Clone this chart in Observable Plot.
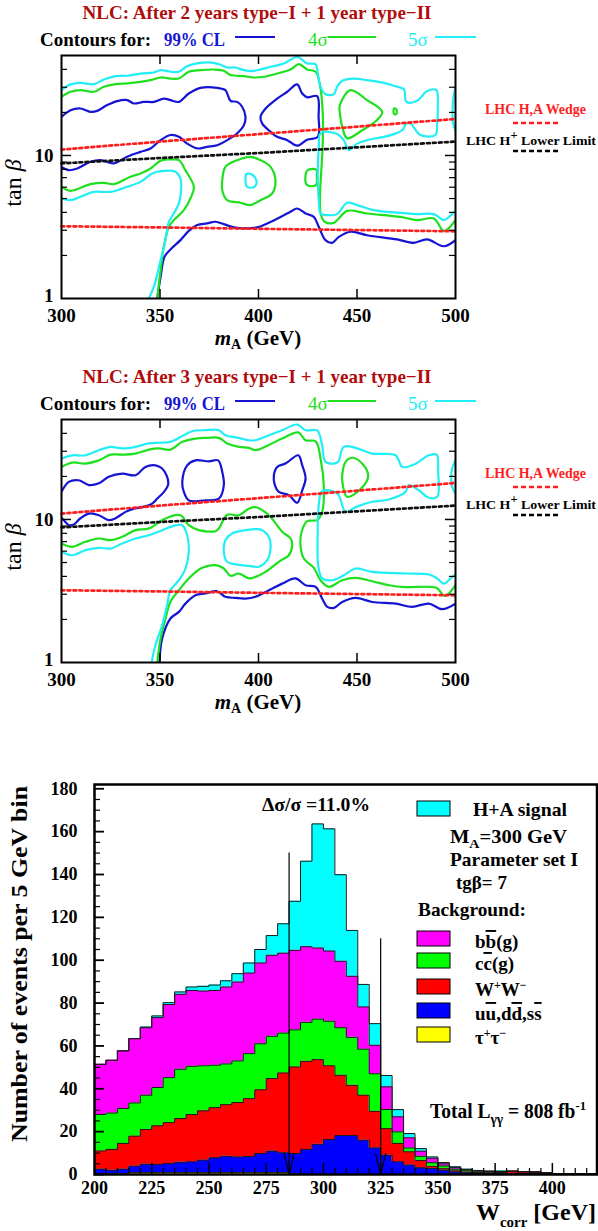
<!DOCTYPE html>
<html><head><meta charset="utf-8">
<script src="https://cdn.jsdelivr.net/npm/d3@7"></script>
<script src="https://cdn.jsdelivr.net/npm/@observablehq/plot@0.6"></script>
<style>
html,body{margin:0;padding:0;background:#fff;}
#page{position:relative;width:598px;height:1231px;overflow:hidden;background:#fff;}
.panel{position:absolute;left:0;}
svg text{font-family:'Liberation Serif','Times New Roman',serif;}
</style></head>
<body><div id="page">
<div class="panel" id="p1" style="top:0px"></div>
<div class="panel" id="p2" style="top:364px"></div>
<div class="panel" id="p3" style="top:760px"></div>
</div>
<script>
// ---------------- DATA: contour panels (mA [GeV], tan beta) ----------------
const xLabelsC = [300, 350, 400, 450, 500];
const xTicksC = [350, 400, 450];
const yLabelsC = [1, 10];
const yMinorC = [2, 3, 4, 5, 6, 7, 8, 9, 20, 30, 40];
const yMajorC = [10];

// LHC reference lines
const dotMA = [300, 350, 400, 450, 500];
const wedgeUpper = [11.0, 12.5, 14.1, 15.9, 18.0];
const hplusLimit = [8.8, 9.6, 10.4, 11.4, 12.5];
const wedgeLower = [3.2, 3.14, 3.07, 3.01, 2.95];

// Panel 1: after 2 years type-I + 1 year type-II
const p1BlueBand = [[300,18.6],[304.6,20.7],[309.6,21.3],[314.7,20.2],[318.1,20.5],[323.2,22.5],[328.3,24.0],[333.3,24.4],[336.7,23.1],[341.8,23.7],[346.9,23.7],[351.9,25.0],[355.3,24.4],[359.6,23.7],[364.6,27.1],[370.6,29.7],[379.0,29.7],[383.2,28.6],[385.8,24.1],[389.2,23.7],[391.7,21.9],[393.4,18.6],[392.6,16.3],[389.2,14.3],[384.1,12.8],[379.0,11.8],[373.9,11.5],[368.9,11.2],[363.8,12.1],[359.6,13.5],[355.3,13.9],[350.3,12.8],[345.2,11.2],[340.1,10.6],[333.3,9.8],[326.6,8.8],[319.8,9.27],[314.7,9.03],[308.0,8.11],[303.7,7.89],[300,8.33]];
const p1BlueLoop = [[401.0,18.6],[403.6,21.3],[409.5,25.0],[414.6,27.9],[419.6,31.4],[422.2,27.1],[424.7,25.5],[429.8,26.0],[430.5,18.6],[430.1,13.5],[424.7,12.9],[419.6,11.7],[414.6,12.8],[409.5,13.5],[405.2,15.0],[401.9,16.7]];
const p1BlueLow = [[348.6,1.0],[350.3,1.42],[352.3,1.96],[355.3,2.20],[360.4,2.56],[364.6,2.97],[368.9,3.26],[373.9,3.35],[378.2,3.44],[382.4,3.31],[387.5,3.14],[394.2,3.09],[399.3,3.14],[404.4,3.35],[411.2,3.72],[416.2,4.04],[419.6,4.26],[423.9,3.93],[428.1,3.72],[430.6,3.17],[434.0,2.56],[437.4,2.45],[440.8,2.70],[446.7,2.93],[455.1,2.77],[470.4,2.59],[478.8,2.45],[485.6,2.59],[494.1,2.32],[500,2.56]];
const p1GreenTop = [[300,25.7],[304.6,27.9],[309.6,28.6],[316.4,27.9],[321.5,30.2],[327.4,31.5],[333.3,31.9],[340.1,32.7],[345.2,33.6],[350.3,35.1],[355.3,34.5],[359.6,34.5],[364.6,38.5],[370.6,39.5],[377.3,39.9],[382.4,39.1],[385.8,36.5],[392.6,35.9],[397.6,35.1],[402.7,35.5],[409.5,37.4],[416.2,39.9],[420.5,43.5],[424.7,39.9],[429.0,38.5],[431.2,31.0],[432.6,20.0],[432.6,12.0],[431.8,7.5],[431.2,5.2],[431.6,3.9],[433.6,3.44],[438.2,3.38],[445.0,4.10],[455.1,3.93],[472.1,3.72],[480.5,3.53],[489.0,3.63],[494.1,2.97],[500,3.53]];
const p1GreenLow = [[300,6.04],[304.6,5.66],[314.7,6.30],[321.5,6.44],[326.6,6.30],[335.0,7.10],[340.1,7.48],[345.2,8.11],[350.3,9.18],[355.3,9.38],[359.6,9.27],[362.9,7.89],[367.2,6.04],[365.8,5.14],[362.1,4.15],[357.0,3.53],[354.5,3.17],[351.9,2.30],[350.3,1.58],[348.6,1.0]];
const p1GreenCircle = [[381.6,6.72],[383.2,8.33],[389.2,9.27],[395.9,9.79],[401.0,9.27],[406.1,8.33],[408.6,6.72],[406.9,5.42],[401.0,4.87],[395.9,4.50],[390.9,4.67],[384.1,4.87],[381.6,5.72]];
const p1GreenNotch = [[429.2,7.98],[425.0,7.89],[423.8,7.10],[424.7,6.20],[429.2,6.20],[429.6,7.10]];
const p1GreenTri = [[441.3,22.5],[446.7,28.6],[455.1,24.4],[462.8,20.2],[460.2,17.7],[452.6,15.0],[445.0,13.2],[442.5,15.9],[441.3,19.7]];
const p1GreenDot = [[468.8,21.3],[470.0,21.0],[470.0,19.5],[468.8,19.5]];
const p1CyanTop = [[300,28.6],[304.6,31.4],[309.6,32.2],[316.4,31.5],[321.5,34.0],[327.4,35.9],[333.3,36.1],[340.1,37.4],[346.9,38.0],[350.3,39.5],[355.3,38.5],[359.6,38.5],[363.8,42.1],[368.9,44.0],[374.8,44.7],[379.9,43.5],[384.1,41.2],[388.3,41.2],[392.6,39.5],[396.8,38.9],[401.0,40.0],[406.1,41.7],[412.9,44.0],[419.6,49.0],[421.3,47.7],[424.7,44.0],[428.9,43.5],[430.1,37.4],[431.5,30.2],[434.0,26.8],[438.2,26.8],[439.9,30.2],[442.5,33.3],[448.4,34.5],[455.1,33.6],[463.6,32.2],[470.4,30.2],[473.8,29.0],[475.1,23.7],[480.5,24.1],[485.6,28.2],[490.3,28.6],[491.0,21.9],[490.7,16.7],[489.8,13.9],[482.2,13.9],[477.1,16.7],[475.1,16.7],[472.9,15.0],[468.7,14.1],[463.6,13.5],[455.1,12.8],[450.1,12.1],[445.8,10.9],[443.3,12.8],[439.1,14.3],[431.5,14.3],[430.6,11.5],[430.1,7.48],[430.6,4.87],[431.5,3.93],[434.8,3.83],[439.9,3.89],[445.0,4.67],[450.1,4.50],[458.5,4.15],[472.1,3.97],[480.5,3.89],[489.0,3.89],[494.1,3.53],[497.1,3.76],[500,4.10]];
const p1CyanLow = [[300,5.00],[304.6,4.87],[309.6,5.14],[316.4,5.57],[324.9,5.57],[333.3,6.04],[340.1,6.54],[346.0,7.48],[350.3,7.77],[357.9,7.69],[360.4,6.90],[360.7,5.72],[359.6,4.62],[357.0,3.93],[354.5,3.44],[352.8,2.56],[350.3,1.85],[346.9,1.21],[344.3,1.0]];
const p1CyanD = [[393.9,7.41],[396.8,7.33],[399.0,6.65],[398.0,6.04],[394.2,6.04]];
const p1CyanEdge = [[500,30.2],[498.8,24.4],[498.5,20.7],[498.8,16.7],[500,15.0]];

// Panel 2: after 3 years type-I + 1 year type-II
const p2BlueBand = [[300,15.6],[303.7,18.3],[308.8,18.8],[313.9,17.4],[319.0,17.9],[324.0,19.9],[330.8,20.9],[337.6,20.4],[342.6,23.3],[347.7,23.9],[351.1,22.7],[353.6,19.9],[354.1,17.4],[352.0,15.6],[348.6,14.0],[346.0,12.9],[340.9,12.2],[336.7,11.9],[332.5,11.3],[327.4,10.2],[324.0,9.89],[319.0,10.7],[313.9,11.0],[309.6,10.2],[306.3,9.22],[303.7,9.12],[301.2,9.89],[300,10.3]];
const p2BlueLoop1 = [[361.3,18.3],[363.8,23.9],[368.0,25.9],[374.8,25.5],[379.5,25.9],[381.6,21.5],[382.4,17.4],[379.9,14.0],[373.1,13.6],[368.0,13.4],[364.6,13.6],[362.1,15.6]];
const p2BlueLoop2 = [[407.8,20.4],[409.5,23.3],[413.7,24.6],[420.2,28.1],[422.2,23.9],[423.9,19.3],[422.2,16.0],[419.7,13.1],[415.4,14.8],[410.3,15.6],[408.3,17.4]];
const p2BlueLow = [[349.7,1.0],[351.1,1.47],[355.3,2.03],[359.6,2.26],[362.9,2.58],[368.0,2.95],[373.1,3.04],[379.0,3.15],[383.2,2.88],[388.3,2.83],[393.4,2.80],[398.5,2.88],[405.3,3.20],[412.0,3.56],[418.8,3.87],[423.9,3.47],[429.0,3.38],[432.3,2.80],[434.9,2.45],[438.3,2.41],[442.5,2.65],[449.3,2.83],[457.7,2.65],[469.6,2.58],[478.0,2.45],[486.5,2.58],[493.3,2.36],[500,2.58]];
const p2GreenTop = [[300,23.3],[305.4,25.0],[312.2,24.6],[319.0,25.9],[324.9,28.4],[330.8,28.4],[337.6,28.9],[344.3,30.8],[349.4,31.4],[355.3,30.8],[361.3,34.9],[368.0,36.8],[373.9,37.2],[379.9,37.2],[384.1,34.0],[390.0,32.2],[395.1,31.7],[398.5,30.5],[405.3,33.2],[412.0,36.8],[420.2,40.6],[423.9,35.8],[429.0,35.2],[431.5,26.7],[433.2,16.5],[432.3,11.3],[429.8,9.89],[424.7,9.73],[421.9,8.20],[421.3,6.61],[423.0,5.33],[428.1,4.59],[431.5,3.76],[435.7,3.38],[442.5,3.76],[449.3,3.91],[457.7,3.70],[466.2,3.47],[474.6,3.37],[486.5,3.38],[490.7,3.31],[494.6,2.92],[500,3.47]];
const p2GreenLow = [[300,6.79],[305.4,6.44],[312.2,6.98],[319.0,7.36],[324.9,7.17],[330.8,7.56],[337.6,8.42],[344.3,8.65],[351.1,9.89],[355.3,10.5],[360.4,10.7],[364.6,9.12],[369.7,8.42],[378.2,8.28],[379.9,8.65],[384.1,10.8],[390.0,10.7],[395.1,11.9],[398.5,12.2],[405.3,10.7],[412.0,8.20],[416.3,7.36],[417.1,6.61],[415.4,5.62],[410.3,5.06],[403.6,4.30],[398.5,3.97],[395.1,3.87],[390.0,4.19],[385.8,4.04],[382.4,4.54],[378.2,4.79],[371.4,4.59],[364.6,3.87],[359.6,3.20],[355.3,2.66],[352.8,2.03],[350.3,1.47],[348.6,1.0]];
const p2GreenTri = [[442.5,20.4],[444.2,25.3],[447.6,27.0],[452.6,24.6],[455.7,20.2],[452.6,16.7],[445.0,14.4],[442.8,17.4]];
const p2CyanTop = [[300,26.7],[305.4,28.1],[312.2,28.1],[319.0,30.5],[324.9,32.2],[330.8,31.4],[337.6,32.2],[344.3,34.0],[349.4,34.4],[355.3,34.9],[362.1,38.8],[366.3,41.4],[373.1,42.1],[379.9,42.1],[383.2,38.8],[390.0,37.2],[395.1,35.8],[398.5,35.8],[405.3,38.8],[412.0,42.1],[419.7,46.1],[423.9,42.1],[429.8,41.9],[432.3,33.0],[434.0,25.3],[440.0,25.0],[443.3,32.2],[449.3,31.7],[457.7,28.9],[469.6,28.1],[473.0,23.3],[478.9,24.2],[486.5,28.1],[490.4,28.4],[491.2,21.5],[490.7,14.4],[486.5,14.2],[481.4,16.0],[476.3,17.4],[474.6,15.6],[466.2,13.8],[457.7,13.3],[449.3,12.2],[444.2,11.3],[440.0,15.2],[432.3,15.8],[430.6,12.6],[430.0,7.36],[430.3,4.79],[432.3,3.87],[437.4,3.76],[443.3,4.07],[449.3,4.54],[457.7,4.30],[474.6,4.19],[486.5,4.12],[490.7,3.87],[494.1,3.56],[497.5,3.87],[500,4.12]];
const p2CyanLow = [[300,5.94],[305.4,5.62],[312.2,6.10],[319.0,6.34],[324.9,6.26],[330.8,6.79],[337.6,7.36],[344.3,7.76],[351.1,8.42],[357.0,9.03],[361.3,9.12],[363.8,7.76],[364.6,5.94],[362.9,4.54],[359.6,3.76],[355.3,3.20],[353.6,2.52],[351.1,1.82],[347.7,1.32],[345.7,1.0]];
const p2CyanCircle = [[382.4,5.94],[383.2,7.17],[386.6,7.98],[393.4,8.42],[399.8,8.55],[402.7,8.28],[405.6,7.36],[406.1,6.26],[404.4,5.19],[400.2,4.67],[395.1,4.74],[389.2,4.84],[384.1,5.06]];
const p2CyanEdge = [[500,26.0],[498.3,22.7],[497.8,19.9],[498.3,16.9],[500,15.2]];

// ---------------- DATA: W_corr histogram (stack tops per 5 GeV bin) ----------------
const binWidth = 5;
const binStart = [200,205,210,215,220,225,230,235,240,245,250,255,260,265,270,275,280,285,290,295,300,305,310,315,320,325,330,335,340,345,350,355,360,365,370,375,380,385,390,395,400,405,410,415];
const tauTop    = [0.2,0.2,0.2,0.9,0.9,0.9,0.9,0.9,0.9,0.9,0.9,0.9,0.9,0.9,0.9,0.9,0.9,0.3,0,0,0,0,0,0,0,0,0,0,0,0,0,0,0,0,0,0,0,0,0,0,0,0,0,0];
const quarkTop  = [2.5,2.0,2.5,3.9,4.8,4.7,5.1,5.7,5.9,6.7,7.8,8.5,8.2,8.4,9.8,10.9,10.1,9.8,11.7,14.1,16.3,18.2,18.2,16.0,12.4,9.0,5.9,4.4,3.1,2.8,2.0,1.2,0.8,0.6,0.5,0.4,0.3,0.3,0.3,0.2,0.1,0.1,0.1,0.1];
const wwTop     = [11.0,11.7,14.5,17.9,21.0,22.7,24.2,26.1,28.0,29.7,31.2,32.6,33.6,35.4,39.5,44.8,47.4,50.2,52.8,53.6,50.7,46.3,41.6,37.0,29.5,21.4,14.5,10.6,6.5,3.8,2.7,1.7,1.2,0.9,0.8,0.9,1.4,1.2,1.1,0.6,0.3,0.3,0.3,0.3];
const ccTop     = [28.0,28.7,30.8,33.4,37.0,40.6,45.2,49.1,50.5,50.7,51.0,51.6,53.0,56.4,61.0,64.5,66.0,67.5,71.0,72.5,71.5,68.5,64.0,58.5,47.0,30.3,19.9,12.4,8.5,5.5,4.0,2.5,2.0,1.5,1.3,1.2,1.5,1.3,1.2,0.7,0.3,0.3,0.3,0.3];
const bbTop     = [51.4,53.3,57.7,63.4,68.5,73.2,79.3,84.1,85.9,85.6,85.9,87.5,89.8,94.0,98.7,102.3,103.3,104.6,106.3,105.7,104.3,99.5,92.5,78.2,60.3,40.9,26.9,17.1,10.9,7.6,5.0,3.2,2.3,1.8,1.5,1.4,1.6,1.4,1.2,0.8,0.4,0.4,0.4,0.4];
const signalTop = [51.4,53.3,57.7,63.4,68.8,74.0,80.2,85.2,87.5,87.8,88.4,90.4,93.7,98.7,105.0,111.5,117.0,127.5,146.2,163.6,161.3,139.9,113.9,88.7,70.4,46.2,30.3,19.1,12.1,8.2,5.6,3.6,2.5,1.9,1.6,1.6,1.6,1.4,1.2,0.8,0.4,0.4,0.4,0.4];
const cutPos = [285, 325];
const cutLineTop = [150, 110];
const xLabelsH = [200, 225, 250, 275, 300, 325, 350, 375, 400];
const yLabelsH = [0, 20, 40, 60, 80, 100, 120, 140, 160, 180];

// ---------------- styling ----------------
const FONT = "'Liberation Serif','Times New Roman',serif";
const BLUE = "#1414d2", GREEN = "#1ee01e", CYAN = "#22eef6", RED = "#ff1e1e", TITLE_RED = "#b00c0c";
const W = 598;

function rich(parent, x, y, segs, attrs = {}) {
  const t = parent.append("text").attr("x", x).attr("y", y).attr("font-family", FONT).attr("text-anchor", "start");
  for (const [k, v] of Object.entries(attrs)) t.attr(k, v);
  let cur = 0;
  for (const s of segs) {
    const seg = typeof s === "string" ? {t: s} : s;
    const shift = seg.dy || 0;
    const ts = t.append("tspan").text(seg.t);
    if (shift !== cur) ts.attr("dy", shift - cur);
    cur = shift;
    if (seg.size) ts.attr("font-size", seg.size);
    if (seg.italic) ts.attr("font-style", "italic");
    if (seg.weight) ts.attr("font-weight", seg.weight);
    if (seg.over) ts.style("text-decoration", "overline");
  }
  return t;
}

function contourPanel(title, contours) {
  const H = 360, mL = 61, mR = 143, mT = 55, mB = 62;
  const pw = W - mL - mR, ph = H - mT - mB;
  const pt = {x: d => d[0], y: d => d[1]};
  const dotted = (vals, stroke) => Plot.line(dotMA.map((m, i) => [m, vals[i]]), {...pt, stroke, strokeWidth: 2.7, strokeDasharray: "2.8,3.2"});
  const yLab = {x: 300, y: d => d, dx: -8, text: d => String(d), textAnchor: "end", fontSize: 19, fontWeight: "bold", fill: "#000"};
  const svg = Plot.plot({
    width: W, height: H, marginLeft: mL, marginRight: mR, marginTop: mT, marginBottom: mB,
    style: {fontFamily: FONT, background: "transparent", color: "#000", overflow: "visible"},
    x: {domain: [300, 500], axis: null},
    y: {type: "log", domain: [1, 50], axis: null},
    marks: [
      ...contours.map(c => Plot.line(c.pts, {...pt, stroke: c.color, strokeWidth: 2.2, curve: c.closed ? "catmull-rom-closed" : "catmull-rom", clip: true})),
      dotted(wedgeUpper, RED), dotted(hplusLimit, "#111"), dotted(wedgeLower, RED),
      Plot.tickY(yMinorC, {y: d => d, insetRight: pw - 6, stroke: "#000", strokeWidth: 1.2}),
      Plot.tickY(yMajorC, {y: d => d, insetRight: pw - 10, stroke: "#000", strokeWidth: 1.5}),
      Plot.tickY(yMinorC, {y: d => d, insetLeft: pw - 6, stroke: "#000", strokeWidth: 1.2}),
      Plot.tickY(yMajorC, {y: d => d, insetLeft: pw - 10, stroke: "#000", strokeWidth: 1.5}),
      Plot.tickX(xTicksC, {x: d => d, insetTop: ph - 9, stroke: "#000", strokeWidth: 1.5}),
      Plot.tickX(xTicksC, {x: d => d, insetBottom: ph - 9, stroke: "#000", strokeWidth: 1.5}),
      Plot.frame({stroke: "#000", strokeWidth: 2}),
      Plot.text(xLabelsC, {x: d => d, y: 1, dy: 17, text: d => String(d), fontSize: 19, fontWeight: "bold", fill: "#000"}),
      Plot.text(yLabelsC.filter(v => v > 1), yLab),
      Plot.text(yLabelsC.filter(v => v <= 1), {...yLab, dy: -3})
    ]
  });
  const s = d3.select(svg);
  rich(s, 257, 19, [title], {"text-anchor": "middle", "font-size": 19, "font-weight": "bold", fill: TITLE_RED, textLength: 349, lengthAdjust: "spacingAndGlyphs"});
  rich(s, 40, 46, ["Contours for:"], {"font-size": 19, "font-weight": "bold", fill: "#000", textLength: 111, lengthAdjust: "spacingAndGlyphs"});
  rich(s, 164, 46, ["99% CL"], {"font-size": 19, "font-weight": "bold", fill: BLUE, textLength: 61, lengthAdjust: "spacingAndGlyphs"});
  s.append("line").attr("x1", 235).attr("x2", 275).attr("y1", 37).attr("y2", 37).attr("stroke", BLUE).attr("stroke-width", 2.2);
  rich(s, 308, 46, ["4σ"], {"font-size": 19, fill: GREEN});
  s.append("line").attr("x1", 328).attr("x2", 376).attr("y1", 37).attr("y2", 37).attr("stroke", GREEN).attr("stroke-width", 2.2);
  rich(s, 408, 46, ["5σ"], {"font-size": 19, fill: CYAN});
  s.append("line").attr("x1", 435).attr("x2", 476).attr("y1", 37).attr("y2", 37).attr("stroke", CYAN).attr("stroke-width", 2.2);
  rich(s, 485, 114, ["LHC H,A Wedge"], {"font-size": 14, "font-weight": "bold", fill: RED, textLength: 101, lengthAdjust: "spacingAndGlyphs"});
  s.append("line").attr("x1", 513).attr("x2", 560).attr("y1", 123).attr("y2", 123).attr("stroke", RED).attr("stroke-width", 2.5).attr("stroke-dasharray", "5,3");
  rich(s, 466, 145, ["LHC H", {t: "+", dy: -6, size: 12}, {t: " Lower Limit", dy: 0}], {"font-size": 13.5, "font-weight": "bold", fill: "#000", textLength: 130, lengthAdjust: "spacingAndGlyphs"});
  s.append("line").attr("x1", 513).attr("x2", 560).attr("y1", 151).attr("y2", 151).attr("stroke", "#000").attr("stroke-width", 2.5).attr("stroke-dasharray", "5,3");
  rich(s, 0, 0, ["tan ", {t: "β", italic: true}], {transform: "translate(21,183) rotate(-90)", "text-anchor": "middle", "font-size": 24, fill: "#000"});
  rich(s, 258, 345, [{t: "m", italic: true}, {t: "A", dy: 4, size: 14}, {t: " (GeV)", dy: 0}], {"text-anchor": "middle", "font-size": 21, "font-weight": "bold", fill: "#000"});
  return svg;
}

document.getElementById("p1").appendChild(contourPanel("NLC: After 2 years type\u2212I + 1 year type\u2212II", [
  {pts: p1BlueBand, color: BLUE}, {pts: p1BlueLoop, color: BLUE, closed: true}, {pts: p1BlueLow, color: BLUE},
  {pts: p1GreenTop, color: GREEN}, {pts: p1GreenLow, color: GREEN}, {pts: p1GreenCircle, color: GREEN, closed: true},
  {pts: p1GreenNotch, color: GREEN, closed: true}, {pts: p1GreenTri, color: GREEN, closed: true}, {pts: p1GreenDot, color: GREEN, closed: true},
  {pts: p1CyanTop, color: CYAN}, {pts: p1CyanLow, color: CYAN}, {pts: p1CyanD, color: CYAN, closed: true}, {pts: p1CyanEdge, color: CYAN}
]));
document.getElementById("p2").appendChild(contourPanel("NLC: After 3 years type\u2212I + 1 year type\u2212II", [
  {pts: p2BlueBand, color: BLUE}, {pts: p2BlueLoop1, color: BLUE, closed: true}, {pts: p2BlueLoop2, color: BLUE, closed: true}, {pts: p2BlueLow, color: BLUE},
  {pts: p2GreenTop, color: GREEN}, {pts: p2GreenLow, color: GREEN}, {pts: p2GreenTri, color: GREEN, closed: true},
  {pts: p2CyanTop, color: CYAN}, {pts: p2CyanLow, color: CYAN}, {pts: p2CyanCircle, color: CYAN, closed: true}, {pts: p2CyanEdge, color: CYAN}
]));

// ---------------- histogram ----------------
(function () {
  const H = 471, mL = 94, mR = 1.5, mT = 24, mB = 57;
  const pw = W - mL - mR, ph = H - mT - mB;
  const layers = [
    {top: tauTop, color: "#ffff00"},
    {top: quarkTop, color: "#0000ff"},
    {top: wwTop, color: "#ff0000"},
    {top: ccTop, color: "#00ff00"},
    {top: bbTop, color: "#ff00ff"},
    {top: signalTop, color: "#00ffff"}
  ];
  const last = binStart.length - 1;
  const stepRows = (lo, hi) => [
    ...binStart.map((b, i) => ({x: b, y1: lo ? lo[i] : 0, y2: hi[i]})),
    {x: binStart[last] + binWidth, y1: lo ? lo[last] : 0, y2: hi[last]}
  ];
  const fills = layers.map((L, k) => Plot.areaY(stepRows(k ? layers[k - 1].top : null, L.top),
    {x: "x", y1: "y1", y2: "y2", curve: "step-after", fill: L.color, clip: true}));
  const outlines = layers.map(L => Plot.line(stepRows(null, L.top),
    {x: "x", y: "y2", curve: "step-after", stroke: "#1a1a1a", strokeWidth: 1, clip: true}));
  const cuts = cutPos.map((c, i) => ({x: c, h: cutLineTop[i]}));
  const heads = cutPos.flatMap(c => [{x: c - 2.2, y: 9.8, z: c}, {x: c, y: 0, z: c}, {x: c + 2.2, y: 9.8, z: c}]);
  const yMajorH = yLabelsH;
  const yMinorH = d3.range(5, 181, 5).filter(v => v % 20 !== 0);
  const xMajorH = [225, 250, 275, 300, 325, 350, 375, 400];
  const xMinorH = d3.range(205, 420, 5).filter(v => v % 25 !== 0);
  const svg = Plot.plot({
    width: W, height: H, marginLeft: mL, marginRight: mR, marginTop: mT, marginBottom: mB,
    style: {fontFamily: FONT, background: "transparent", color: "#000", overflow: "visible"},
    x: {domain: [200, 419.5], axis: null},
    y: {domain: [0, 182], axis: null},
    marks: [
      ...fills, ...outlines,
      Plot.ruleX(cuts, {x: "x", y1: 0, y2: "h", stroke: "#000", strokeWidth: 1.2}),
      Plot.line(heads, {x: "x", y: "y", z: "z", stroke: "#000", strokeWidth: 1.2}),
      Plot.tickY(yMajorH, {y: d => d, insetRight: pw - 10, stroke: "#000", strokeWidth: 1.8}),
      Plot.tickY(yMinorH, {y: d => d, insetRight: pw - 6, stroke: "#000", strokeWidth: 1.2}),
      Plot.tickX(xMajorH, {x: d => d, insetTop: ph - 11, stroke: "#000", strokeWidth: 1.5}),
      Plot.tickX(xMinorH, {x: d => d, insetTop: ph - 6, stroke: "#000", strokeWidth: 1.2}),
      Plot.frame({stroke: "#000", strokeWidth: 2.5}),
      Plot.text(xLabelsH, {x: d => d, y: 0, dy: 14, text: d => String(d), fontSize: 18, fontWeight: "bold", fill: "#000"}),
      Plot.text(yLabelsH, {x: 200, y: d => d, dx: -17, text: d => String(d), textAnchor: "end", fontSize: 18, fontWeight: "bold", fill: "#000"})
    ]
  });
  const s = d3.select(svg);
  const B = {"font-weight": "bold", fill: "#000"};
  rich(s, 0, 0, ["Number of events per 5 GeV bin"], {...B, transform: "translate(27,204) rotate(-90)", "text-anchor": "middle", "font-size": 23, textLength: 356, lengthAdjust: "spacingAndGlyphs"});
  rich(s, 596, 460, ["W", {t: "corr", dy: 7, size: 15}, {t: " [GeV]", dy: 0}], {...B, "text-anchor": "end", "font-size": 24});
  rich(s, 262, 51, ["\u0394\u03c3/\u03c3 =11.0%"], {...B, "font-size": 18, textLength: 108, lengthAdjust: "spacingAndGlyphs"});
  const sw = (y, color) => s.append("rect").attr("x", 417).attr("y", y).attr("width", 33).attr("height", 15).attr("fill", color).attr("stroke", "#000").attr("stroke-width", 1);
  sw(41, "#00ffff");
  rich(s, 473, 56, ["H+A signal"], {...B, "font-size": 19, textLength: 94, lengthAdjust: "spacingAndGlyphs"});
  rich(s, 450, 83, ["M", {t: "A", dy: 5, size: 13}, {t: "=300 GeV", dy: 0}], {...B, "font-size": 19, textLength: 117, lengthAdjust: "spacingAndGlyphs"});
  rich(s, 450, 106, ["Parameter set I"], {...B, "font-size": 19, textLength: 128, lengthAdjust: "spacingAndGlyphs"});
  rich(s, 456, 129, ["tg\u03b2= 7"], {...B, "font-size": 19});
  rich(s, 418, 156, ["Background:"], {...B, "font-size": 19, textLength: 108, lengthAdjust: "spacingAndGlyphs"});
  sw(171, "#ff00ff"); sw(193, "#00ff00"); sw(219, "#ff0000"); sw(243, "#0000ff"); sw(267, "#ffff00");
  rich(s, 475, 188, ["b", {t: "b", over: true}, "(g)"], {...B, "font-size": 19});
  rich(s, 475, 210, ["c", {t: "c", over: true}, "(g)"], {...B, "font-size": 19});
  rich(s, 475, 236, ["W", {t: "+", dy: -7, size: 12}, {t: "W", dy: 0}, {t: "\u2212", dy: -7, size: 12}], {...B, "font-size": 19});
  rich(s, 475, 260, ["u", {t: "u", over: true}, ",d", {t: "d", over: true}, ",s", {t: "s", over: true}], {...B, "font-size": 19});
  rich(s, 475, 284, ["\u03c4", {t: "+", dy: -7, size: 12}, {t: "\u03c4", dy: 0}, {t: "\u2212", dy: -7, size: 12}], {...B, "font-size": 19});
  rich(s, 430, 358, ["Total L", {t: "\u03b3\u03b3", dy: 6, size: 14}, {t: " = 808 fb", dy: 0}, {t: "-1", dy: -8, size: 13}], {...B, "font-size": 20, textLength: 156, lengthAdjust: "spacingAndGlyphs"});
  document.getElementById("p3").appendChild(svg);
})();
</script></body></html>
